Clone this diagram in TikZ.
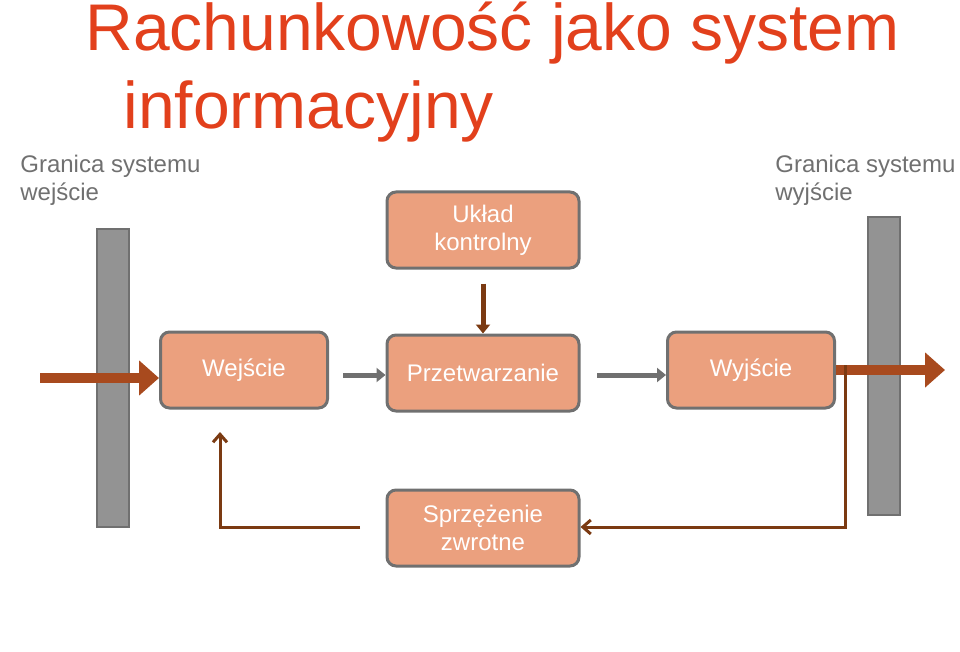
\documentclass[tikz,border=0pt]{standalone}
\usepackage{fontspec}
\setmainfont{Liberation Sans}
\usetikzlibrary{arrows.meta}
\definecolor{boxfill}{HTML}{EBA07E}
\definecolor{boxline}{HTML}{707070}
\definecolor{barfill}{HTML}{939393}
\definecolor{rust}{HTML}{A84A1E}
\definecolor{brownline}{HTML}{7B3A12}
\definecolor{titlered}{HTML}{E2401C}
\tikzset{every picture/.style={line width=0.75pt}}
\tikzset{
  block/.style={draw=boxline, line width=3pt, fill=boxfill, rounded corners=9pt, text=white,
    minimum width=192pt, minimum height=76pt, align=center, font=\fontsize{24}{28}\selectfont},
  bar/.style={draw=boxline, line width=2pt, fill=barfill, minimum width=32pt},
  bigarrow/.style={draw=rust, line width=10pt, -{Triangle[length=20pt,width=34pt]}},
  smallarrow/.style={draw=boxline, line width=5pt, -{Triangle[length=9pt,width=14pt]}},
  feedback/.style={draw=brownline, line width=3pt, -{Straight Barb[length=8pt,width=14pt]}},
  label/.style={anchor=north west, inner sep=0pt, align=left, text=boxline, font=\fontsize{24}{28}\selectfont}
}
\begin{document}
\begin{tikzpicture}[x=1pt,y=1pt,yscale=-1,xscale=1]
\useasboundingbox (0,0) rectangle (960,652);

% Title
\node (title) [anchor=north west, inner sep=0pt, text=titlered, align=left, font=\fontsize{66}{78}\selectfont] at (85,2) {Rachunkowość jako system\\\hspace*{38pt}informacyjny};

% Boundary labels
\node (lblin) [label] at (20,155) {Granica systemu\\wejście};
\node (lblout) [label] at (775,155) {Granica systemu\\wyjście};

% Boundary bars
\node (barin) [bar, minimum height=297pt] at (113,378) {};
\node (barout) [bar, minimum height=297pt] at (884,366) {};

% Blocks
\node (control) [block, minimum width=192pt] at (483,230) {Układ\\kontrolny};
\node (input) [block, minimum width=167pt] at (244,370) {Wejście};
\node (process) [block] at (483,373) {Przetwarzanie};
\node (output) [block, minimum width=167pt] at (751,370) {Wyjście};
\node (feed) [block] at (483,528) {Sprzężenie\\zwrotne};

% Coordinates for free ends
\coordinate (instart) at (40,378);
\coordinate (outend) at (945,370);
\coordinate (corner) at (845,527);
\coordinate (leftend) at (360,527);
\coordinate (leftcorner) at (220,527);

% Arrows
\draw [bigarrow] (instart) -- (input.west |- instart);
\draw [smallarrow] (343,375) -- (process.west |- 0,375);
\draw [smallarrow] (597,375) -- (output.west |- 0,375);
\draw [smallarrow, draw=brownline] (control.south) ++(0,14) -- (process.north);
\draw [bigarrow] (output.east |- outend) -- (outend);

% Feedback loop
\draw [feedback] (corner |- 0,365) -- (corner) -- (feed.east |- corner);
\draw [feedback] (leftend) -- (leftcorner) -- (220,432);

\end{tikzpicture}
\end{document}
